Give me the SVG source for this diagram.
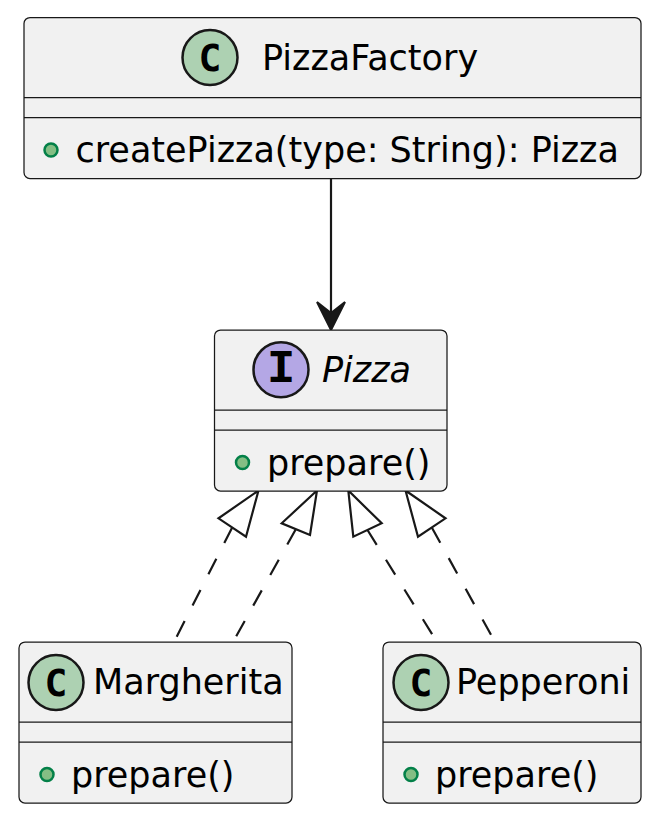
<svg xmlns="http://www.w3.org/2000/svg" width="647" height="814" viewBox="0 0 647 814">
<style>
.box{fill:#F1F1F1;stroke:#181818;stroke-width:1.25}
.sep{stroke:#181818;stroke-width:1.25}
.txt{font-family:"DejaVu Sans",sans-serif;font-size:35px;fill:#000000}
.ital{font-style:italic}
.cls{fill:#ADD1B2;stroke:#181818;stroke-width:2.5}
.ifc{fill:#B4A7E5;stroke:#181818;stroke-width:2.5}
.glyphC{font-family:"DejaVu Sans Mono",monospace;font-weight:bold;font-size:38px;fill:#000000;text-anchor:middle}
.glyphI{font-family:"Liberation Mono",monospace;font-weight:bold;font-size:47px;fill:#000000;text-anchor:middle}
.dot{fill:#84BE84;stroke:#038048;stroke-width:2.5}
.edge{stroke:#181818;stroke-width:2.2;fill:none}
.dash{stroke-dasharray:17.5,17.5}
.head{fill:#181818;stroke:#181818;stroke-width:2}
.tri{fill:none;stroke:#181818;stroke-width:2.2;stroke-linejoin:miter}
</style>
<g id="connectors">
<line class="edge" x1="331" y1="178.5" x2="331" y2="322"/>
<polygon class="head" points="331,330 345,302 331,313 317,302"/>
<line class="edge dash" x1="232.2" y1="527.5" x2="174" y2="642"/>
<polygon class="tri" points="258.5,490.5 218.5,518.3 246,536.7"/>
<line class="edge dash" x1="295.8" y1="529.2" x2="233" y2="642"/>
<polygon class="tri" points="317,490.5 281.7,523.3 310,535"/>
<line class="edge dash" x1="367.5" y1="530" x2="437" y2="642"/>
<polygon class="tri" points="348.3,490.5 353.3,536.7 381.7,523.3"/>
<line class="edge dash" x1="431.8" y1="527.5" x2="495" y2="642"/>
<polygon class="tri" points="405.5,490.5 445.5,518.3 418,536.7"/>
</g>
<g id="PizzaFactory">
<rect class="box" x="24" y="17.5" width="617" height="161" rx="6" ry="6"/>
<ellipse class="cls" cx="210" cy="57.5" rx="27.5" ry="27.5"/>
<text class="glyphC" x="210" y="71">C</text>
<text class="txt" x="262" y="69.6">PizzaFactory</text>
<line class="sep" x1="24" y1="97.5" x2="641" y2="97.5"/>
<line class="sep" x1="24" y1="117.5" x2="641" y2="117.5"/>
<ellipse class="dot" cx="51" cy="150" rx="6.5" ry="6.5"/>
<text class="txt" x="75.5" y="162">createPizza(type: String): Pizza</text>
</g>
<g id="Pizza">
<rect class="box" x="214.5" y="330" width="232.5" height="161" rx="6" ry="6"/>
<ellipse class="ifc" cx="281" cy="369.7" rx="27.5" ry="27.5"/>
<text class="glyphI" x="281" y="381.7">I</text>
<text class="txt ital" x="322" y="382">Pizza</text>
<line class="sep" x1="214.5" y1="410" x2="447" y2="410"/>
<line class="sep" x1="214.5" y1="430" x2="447" y2="430"/>
<ellipse class="dot" cx="242.5" cy="462.5" rx="6.5" ry="6.5"/>
<text class="txt" x="267" y="474.5">prepare()</text>
</g>
<g id="Margherita">
<rect class="box" x="19" y="642" width="273" height="161" rx="6" ry="6"/>
<ellipse class="cls" cx="56" cy="682.5" rx="27.5" ry="27.5"/>
<text class="glyphC" x="56" y="696">C</text>
<text class="txt" x="93" y="694">Margherita</text>
<line class="sep" x1="19" y1="722" x2="292" y2="722"/>
<line class="sep" x1="19" y1="742" x2="292" y2="742"/>
<ellipse class="dot" cx="47" cy="774.5" rx="6.5" ry="6.5"/>
<text class="txt" x="71" y="786.5">prepare()</text>
</g>
<g id="Pepperoni">
<rect class="box" x="383" y="642" width="258" height="161" rx="6" ry="6"/>
<ellipse class="cls" cx="421" cy="682.5" rx="27.5" ry="27.5"/>
<text class="glyphC" x="421" y="696">C</text>
<text class="txt" x="456" y="694">Pepperoni</text>
<line class="sep" x1="383" y1="722" x2="641" y2="722"/>
<line class="sep" x1="383" y1="742" x2="641" y2="742"/>
<ellipse class="dot" cx="411" cy="774.5" rx="6.5" ry="6.5"/>
<text class="txt" x="435" y="786.5">prepare()</text>
</g>
</svg>
